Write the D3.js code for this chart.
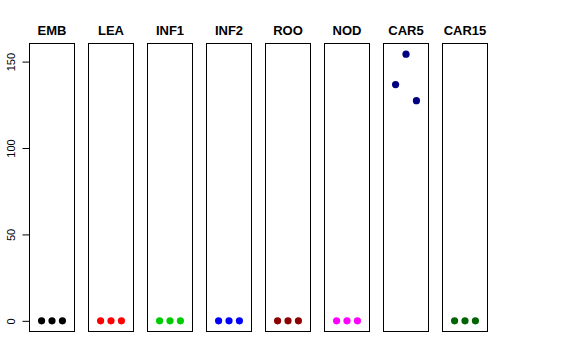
<!DOCTYPE html>
<html>
<head>
<meta charset="utf-8">
<style>
body { margin: 0; background: #fff; }
svg { display: block; font-family: "Liberation Sans", Arial, sans-serif; }
.title { font-weight: bold; font-size: 13px; text-anchor: middle; }
.tick text { font-size: 11px; }
</style>
</head>
<body>
<svg id="chart" width="576" height="360"></svg>
<script src="https://cdnjs.cloudflare.com/ajax/libs/d3/7.8.5/d3.min.js"></script>
<script>
const groups = ["EMB", "LEA", "INF1", "INF2", "ROO", "NOD", "CAR5", "CAR15"];
const colors = ["#000000", "#FF0000", "#00CD00", "#0000FF", "#8B0000", "#FF00FF", "#000080", "#006400"];
const values = [
  [0, 0, 0],
  [0, 0, 0],
  [0, 0, 0],
  [0, 0, 0],
  [0, 0, 0],
  [0, 0, 0],
  [136.7, 154.3, 127.4],
  [0, 0, 0]
];
const yTicks = [0, 50, 100, 150];

const svg = d3.select("#chart");
const plotTop = 43.5, plotBottom = 331.5;
const panelLeft = 29.5, panelW = 45, panelStep = 59;

// y range as in R: data range plus 4%
const yMax = d3.max(values.flat()), yMin = 0;
const pad = (yMax - yMin) * 0.04;
const y = d3.scaleLinear().domain([yMin - pad, yMax + pad]).range([plotBottom, plotTop]);

groups.forEach((g, i) => {
  const x0 = panelLeft + i * panelStep;
  const x = d3.scaleLinear().domain([-0.16, 4.16]).range([x0, x0 + panelW]);
  const p = svg.append("g");

  p.append("rect")
    .attr("x", x0).attr("y", plotTop)
    .attr("width", panelW).attr("height", plotBottom - plotTop)
    .attr("fill", "none").attr("stroke", "#000").attr("stroke-width", 1);

  p.append("text").attr("class", "title")
    .attr("x", x0 + panelW / 2).attr("y", 35)
    .text(g);

  p.selectAll("circle")
    .data(values[i])
    .join("circle")
    .attr("cx", (d, j) => x(j + 1))
    .attr("cy", d => y(d))
    .attr("r", 3.6)
    .attr("fill", colors[i]);

  if (i === 0) {
    const ax = p.append("g")
      .attr("transform", `translate(${x0},0)`)
      .call(d3.axisLeft(y).tickValues(yTicks).tickSize(7).tickPadding(0).tickFormat(d3.format("d")));
    ax.select(".domain").remove();
    ax.selectAll(".tick line").attr("stroke", "#000");
    ax.selectAll(".tick text")
      .attr("transform", "rotate(-90)")
      .attr("x", 0).attr("y", -15)
      .attr("dy", 0)
      .attr("text-anchor", "middle")
      .attr("fill", "#000");
  }
});
</script>
</body>
</html>
